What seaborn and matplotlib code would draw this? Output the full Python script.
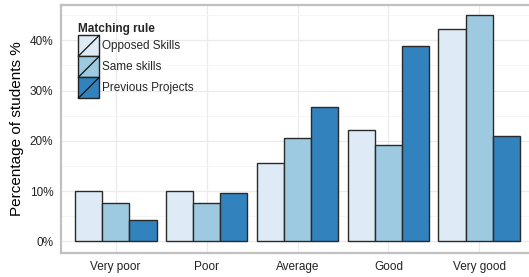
import matplotlib
matplotlib.use("Agg")
import matplotlib.pyplot as plt
import seaborn as sns
import pandas as pd
from matplotlib.patches import Rectangle
from matplotlib.lines import Line2D
from matplotlib.legend_handler import HandlerPatch
from matplotlib.ticker import MultipleLocator, FuncFormatter

categories = ["Very poor", "Poor", "Average", "Good", "Very good"]
rules = ["Opposed Skills", "Same skills", "Previous Projects"]
opposed = [10.0, 10.0, 15.6, 22.1, 42.2]
same = [7.7, 7.7, 20.6, 19.2, 45.0]
previous = [4.2, 9.6, 26.8, 38.8, 20.9]
colors = ["#deebf7", "#9ecae1", "#3182bd"]

rows = []
for rule, vals in zip(rules, [opposed, same, previous]):
    for c, v in zip(categories, vals):
        rows.append({"rating": c, "rule": rule, "pct": v})
df = pd.DataFrame(rows)

sns.set_style("white")
plt.rcParams["font.family"] = ["Liberation Sans", "DejaVu Sans"]

fig = plt.figure(figsize=(5.29, 2.77), dpi=100)
ax = fig.add_axes([61/529, 1 - 253/277, (534-61)/529, 248/277])

sns.barplot(data=df, x="rating", y="pct", hue="rule", order=categories,
            hue_order=rules, palette=colors, saturation=1, width=0.9,
            edgecolor="#2a2a2a", linewidth=1.0, errorbar=None, ax=ax, zorder=3)

ax.set_ylim(-2.3, 47)
ax.set_xlim(-0.6, 4.6)
ax.yaxis.set_major_locator(MultipleLocator(10))
ax.yaxis.set_minor_locator(MultipleLocator(5))
ax.yaxis.set_major_formatter(FuncFormatter(lambda v, p: f"{v:.0f}%"))
ax.grid(True, which="major", color="#ebebeb", lw=0.9, zorder=0)
ax.grid(True, which="minor", axis="y", color="#f5f5f5", lw=0.6, zorder=0)
ax.set_axisbelow(True)
ax.set_xlabel("")
ax.set_ylabel("Percentage of students %", fontsize=11, color="black", labelpad=4)
ax.tick_params(axis="both", which="major", length=3.5, width=1.0, color="#333333",
               labelsize=8.5, labelcolor="#222222", direction="out", pad=2)
ax.tick_params(axis="y", which="minor", length=0)
for s in ["left", "bottom", "top", "right"]:
    ax.spines[s].set_color("#c0c0c0")
    ax.spines[s].set_linewidth(1.6)
ax.spines["right"].set_visible(False)


class SlashHandler(HandlerPatch):
    def create_artists(self, legend, orig_handle, xdescent, ydescent, width,
                       height, fontsize, trans):
        r = Rectangle((-xdescent, -ydescent), width, height,
                      facecolor=orig_handle.get_facecolor(),
                      edgecolor="#222222", lw=1.0, transform=trans)
        l = Line2D([-xdescent, -xdescent + width], [-ydescent, -ydescent + height],
                   color="#111111", lw=0.9, transform=trans)
        return [r, l]


handles = [Rectangle((0, 0), 1, 1, facecolor=c) for c in colors]
ax.get_legend().remove()
leg = fig.legend(handles, rules, loc="upper left",
                 bbox_to_anchor=(70/529, 1 - 15/277), frameon=False,
                 title="Matching rule", fontsize=8.5,
                 handler_map={Rectangle: SlashHandler()},
                 handlelength=1.78, handleheight=2.36, labelspacing=0.0,
                 handletextpad=0.25, borderpad=0.2)
leg.get_title().set_fontweight("bold")
leg.get_title().set_fontsize(8.5)
leg._legend_box.align = "left"

fig.savefig("out.png", dpi=100)
